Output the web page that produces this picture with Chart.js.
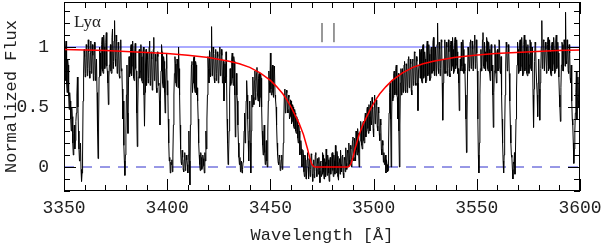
<!DOCTYPE html>
<html>
<head>
<meta charset="utf-8">
<script src="https://cdn.jsdelivr.net/npm/chart.js"></script>
<style>
  body { margin: 0; background: #fff; }
  canvas { display: block; }
</style>
</head>
<body>
<canvas id="myChart" width="602" height="252"></canvas>
<script>
'use strict';

// **************************** DATA ****************************

// spectrum sampled every 0.25 A starting at 3350 A
let specStart = 3350;
let specStep = 0.25;
let specFlux = [
  0.95, 0.80, 0.72, 0.98, 1.05, 0.70, 0.62, 0.90, 0.85, 0.60, 0.48, 0.62, 0.55, 0.40, 0.30, 0.50, 0.42, 0.20, 0.10, 0.28,
  0.35, 0.15, 0.22, 0.38, 0.45, 0.60, 0.75, 0.50, 0.30, 0.15, 0.05, 0.12, 0.20, -0.02, -0.12, -0.05, 0.10, 0.55, 0.80, 0.98,
  0.92, 0.75, 0.78, 1.02, 1.00, 0.76, 0.82, 1.06, 0.96, 0.80, 0.74, 0.95, 1.05, 0.78, 0.85, 1.02, 0.93, 0.72, 0.76, 1.04,
  0.98, 0.72, 0.80, 0.90, 0.62, 0.30, 0.07, 0.35, 0.75, 1.00, 0.95, 0.76, 0.82, 1.02, 1.08, 0.80, 0.78, 1.10, 1.00, 0.82,
  0.86, 1.04, 1.12, 0.84, 0.80, 0.70, 0.52, 0.75, 0.85, 0.95, 1.02, 0.80, 0.78, 1.08, 1.15, 0.82, 0.88, 1.05, 1.22, 0.90,
  0.84, 1.10, 1.05, 0.78, 0.80, 1.04, 0.98, 0.76, 0.74, 0.98, 1.06, 0.80, 0.82, 0.65, 0.40, 0.55, 0.18, 0.05, -0.07, 0.10,
  0.30, 0.60, 0.85, 0.45, 0.28, 0.70, 0.92, 0.75, 0.78, 0.98, 1.02, 0.76, 0.84, 1.05, 0.96, 0.74, 0.72, 0.95, 1.03, 0.82,
  0.80, 0.45, 0.17, 0.50, 0.75, 0.96, 0.98, 0.74, 0.80, 1.02, 0.92, 0.72, 0.70, 0.96, 1.00, 0.60, 0.34, 0.62, 0.85, 0.98,
  0.68, 0.90, 0.95, 0.70, 0.74, 1.00, 1.05, 0.68, 0.72, 0.96, 0.90, 0.64, 0.66, 0.98, 1.08, 0.72, 0.75, 0.94, 0.88, 0.66,
  0.62, 0.96, 0.92, 0.68, 0.70, 0.55, 0.35, 0.60, 0.80, 1.02, 0.96, 0.70, 0.66, 0.92, 0.88, 0.62, 0.45, 0.70, 0.82, 0.95,
  0.60, 0.72, 0.40, 0.20, 0.05, 0.08, -0.05, 0.04, 0.02, 0.06, -0.04, 0.10, 0.35, 0.60, 0.78, 0.92, 0.86, 0.70, 0.67, 0.90,
  0.85, 0.66, 1.00, 0.82, 0.60, 0.35, 0.15, 0.04, 0.02, 0.14, 0.08, -0.02, -0.04, 0.06, 0.12, -0.03, 0.00, 0.10, 0.06, 0.02,
  -0.05, 0.10, 0.30, 0.05, -0.15, 0.35, 0.65, 0.85, 0.88, 0.62, 0.70, 0.90, 0.92, 0.66, 0.62, 0.88, 0.85, 0.60, 0.66, 0.55,
  0.40, 0.20, 0.10, 0.02, -0.03, 0.12, 0.08, -0.02, 0.00, 0.10, 0.07, 0.01, -0.05, 0.12, 0.05, 0.30, 0.15, 0.40, 0.60, 0.92,
  0.82, 0.70, 0.97, 0.78, 0.75, 0.96, 1.17, 0.76, 0.80, 1.00, 0.95, 0.74, 0.70, 0.94, 0.98, 0.72, 0.78, 0.96, 0.92, 0.70,
  0.72, 0.94, 1.00, 0.76, 0.80, 0.98, 0.93, 0.70, 0.74, 0.88, 0.55, 0.75, 0.86, 0.70, 0.96, 0.75, 0.40, 0.20, 0.02, 0.10,
  0.30, 0.60, 0.82, 0.68, 0.70, 0.90, 0.95, 0.74, 0.68, 0.92, 0.88, 0.60, 0.25, 0.50, 0.78, 0.60, 0.55, 0.35, 0.20, 0.08,
  0.02, 0.08, -0.04, 0.02, 0.05, -0.05, -0.02, 0.04, 0.10, 0.30, 0.45, 0.20, 0.30, 0.55, 0.72, 0.60, 0.40, 0.22, 0.05, 0.30,
  0.55, 0.20, -0.05, 0.30, 0.60, 0.50, 0.75, 0.58, 0.52, 0.72, 0.80, 0.56, 0.62, 0.78, 0.83, 0.60, 0.55, 0.74, 0.78, 0.50,
  0.58, 0.78, 0.74, 0.50, 0.30, 0.18, 0.10, 0.25, 0.35, 0.12, 0.02, 0.10, 0.22, 0.05, 0.00, 0.30, 0.55, 0.80, 0.70, 0.62,
  0.95, 0.65, 0.60, 0.82, 0.85, 0.62, 0.58, 0.84, 0.80, 0.60, 0.56, 0.50, 0.35, 0.20, 0.10, 0.04, 0.02, 0.10, 0.08, -0.03,
  -0.02, 0.06, 0.10, -0.02, 0.00, 0.20, 0.40, 0.60, 0.65, 0.45, 0.50, 0.64, 0.62, 0.48, 0.45, 0.60, 0.58, 0.40, 0.42, 0.56,
  0.55, 0.36, 0.38, 0.52, 0.50, 0.34, 0.32, 0.48, 0.45, 0.30, 0.28, 0.42, 0.40, 0.24, 0.20, 0.35, 0.30, 0.10, 0.12, 0.22,
  0.15, 0.00, 0.02, 0.14, 0.10, -0.04, -0.08, 0.10, 0.08, -0.10, -0.05, 0.06, 0.12, 0.00, -0.10, 0.07, 0.05, -0.08, -0.02, 0.11,
  0.10, -0.06, -0.12, 0.02, 0.06, -0.09, -0.04, 0.10, 0.12, -0.02, -0.08, 0.07, 0.03, -0.06, 0.08, -0.03, -0.13, 0.04, 0.05, -0.08,
  -0.06, 0.12, 0.10, -0.04, -0.10, 0.07, 0.04, -0.08, 0.15, 0.02, -0.07, 0.10, 0.06, -0.05, -0.12, 0.05, 0.08, -0.06, 0.00, 0.11,
  0.12, -0.03, -0.08, 0.10, 0.05, -0.06, 0.18, 0.00, -0.05, 0.13, 0.09, -0.08, -0.11, 0.04, 0.07, -0.06, 0.14, 0.02, -0.04, 0.09,
  0.10, -0.05, -0.09, 0.08, 0.06, -0.04, 0.16, 0.03, -0.02, 0.14, 0.12, 0.00, 0.20, 0.06, 0.02, 0.18, 0.15, 0.00, 0.08, 0.22,
  0.25, 0.08, 0.05, 0.24, 0.18, 0.05, 0.30, 0.14, 0.10, 0.32, 0.28, 0.12, 0.00, 0.20, 0.22, 0.38, 0.33, 0.18, 0.15, 0.36,
  0.38, 0.22, 0.20, 0.40, 0.45, 0.25, 0.30, 0.48, 0.50, 0.32, 0.28, 0.52, 0.42, 0.30, 0.55, 0.38, 0.35, 0.58, 0.48, 0.32,
  0.25, 0.50, 0.60, 0.36, 0.40, 0.56, 0.52, 0.34, 0.30, 0.50, 0.45, 0.28, 0.22, 0.40, 0.35, 0.15, 0.10, 0.22, 0.18, 0.04,
  0.12, 0.02, 0.05, 0.10, -0.05, 0.06, 0.02, -0.04, -0.03, 0.20, 0.45, 0.62, 0.70, 0.40, 0.00, 0.40, 0.72, 0.55, 0.58, 0.78,
  0.80, 0.60, 0.62, 0.82, 0.85, 0.60, 0.58, 0.40, 0.78, 0.30, 0.00, 0.35, 0.70, 0.82, 0.60, 0.78, 0.82, 0.62, 0.65, 0.85,
  0.88, 0.64, 0.62, 0.86, 0.84, 0.62, 0.66, 0.90, 0.92, 0.66, 0.70, 0.90, 0.86, 0.64, 0.60, 0.88, 0.90, 0.68, 0.72, 0.96,
  0.95, 0.70, 0.68, 0.92, 0.88, 0.70, 0.47, 0.80, 0.85, 0.98, 0.74, 0.95, 0.98, 0.72, 0.70, 1.00, 1.02, 0.74, 0.76, 0.96,
  0.90, 0.70, 0.72, 1.00, 1.05, 0.76, 0.78, 1.02, 0.94, 0.72, 0.74, 0.98, 1.00, 0.78, 0.80, 1.04, 1.08, 0.80, 0.76, 1.00,
  0.95, 0.76, 0.80, 1.02, 1.20, 0.82, 0.78, 1.04, 0.98, 0.76, 0.82, 1.06, 1.04, 0.70, 0.39, 0.70, 0.90, 0.78, 1.06, 0.80,
  0.78, 1.04, 1.00, 0.76, 0.82, 1.06, 0.96, 0.78, 0.75, 1.02, 1.05, 0.80, 0.84, 1.08, 0.98, 0.78, 0.80, 1.04, 1.08, 0.82,
  0.85, 1.06, 0.96, 0.78, 0.82, 0.70, 0.47, 0.75, 0.90, 0.80, 1.04, 0.84, 0.80, 1.06, 0.98, 0.78, 0.86, 0.80, 0.60, 0.40,
  0.12, 0.40, 0.75, 1.00, 0.95, 0.80, 0.82, 1.04, 1.06, 0.82, 0.84, 1.05, 0.98, 0.80, 0.80, 1.02, 1.10, 0.82, 0.86, 1.06,
  0.95, 0.80, 0.40, 0.10, -0.05, 0.20, 0.60, 0.82, 0.98, 0.80, 0.84, 1.06, 1.12, 0.84, 0.82, 1.04, 0.96, 0.80, 0.88, 1.08,
  1.05, 0.82, 0.80, 1.04, 0.98, 0.78, 0.72, 0.96, 1.02, 0.80, 0.85, 0.60, 0.33, 0.62, 0.80, 1.02, 0.95, 0.78, 0.70, 0.96,
  0.98, 0.80, 0.82, 1.06, 1.05, 0.80, 0.78, 0.92, 0.60, 0.40, 0.20, 0.05, -0.05, 0.10, 0.30, 0.60, 0.85, 1.04, 1.00, 0.80,
  0.82, 1.02, 0.96, 0.78, 0.55, 0.35, 0.20, 0.10, 0.08, -0.02, -0.10, 0.04, 0.03, 0.12, -0.06, 0.15, 0.40, 0.65, 0.85, 1.04,
  0.98, 0.78, 0.80, 1.04, 1.06, 0.80, 0.84, 1.08, 0.95, 0.76, 0.78, 1.02, 1.10, 0.80, 0.82, 1.06, 1.00, 0.78, 0.76, 1.02,
  0.94, 0.78, 0.85, 1.06, 1.04, 0.82, 0.80, 1.00, 0.96, 0.60, 0.33, 0.65, 0.88, 1.04, 1.02, 0.80, 0.80, 0.60, 0.42, 0.70,
  0.90, 0.65, 0.39, 0.70, 0.82, 1.00, 1.22, 0.82, 0.85, 1.06, 1.05, 0.80, 0.80, 1.04, 0.98, 0.78, 0.84, 1.02, 1.08, 0.80,
  0.82, 1.06, 0.96, 0.78, 0.76, 1.02, 1.04, 0.80, 0.86, 1.08, 0.98, 0.78, 0.80, 1.05, 1.10, 0.82, 0.84, 1.04, 0.95, 0.75,
  0.60, 0.50, 0.38, 0.66, 0.85, 1.04, 1.02, 0.80, 0.80, 1.06, 1.05, 0.84, 1.29, 0.88, 0.86, 1.06, 1.00, 0.80, 0.78, 1.02,
  0.95, 0.74, 0.70, 0.85, 0.55, 0.40, 0.35, 0.20, 0.03, 0.15, 0.30, 0.45, 0.62, 0.80, 0.40, 0.58, 0.75, 0.55, 0.50, 0.78,
  0.70
];

// damped Lya fit (red curve)
let fitWave = [3350, 3360, 3370, 3380, 3390, 3400, 3410, 3420, 3430, 3435, 3440, 3445,
  3450, 3453, 3456, 3458, 3460, 3462, 3464, 3466, 3467, 3468, 3469, 3470, 3471, 3472,
  3487, 3488, 3489, 3490, 3491, 3492, 3493, 3495, 3497, 3499, 3501, 3503, 3506, 3509,
  3514, 3519, 3524, 3529, 3539, 3549, 3559, 3569, 3579, 3589, 3600];
let fitFlux = [0.98, 0.975, 0.97, 0.963, 0.955, 0.945, 0.932, 0.912, 0.882, 0.86, 0.83, 0.785,
  0.722, 0.67, 0.61, 0.56, 0.50, 0.43, 0.36, 0.27, 0.21, 0.15, 0.08, 0.025, 0.003, 0,
  0, 0.003, 0.025, 0.08, 0.15, 0.21, 0.27, 0.36, 0.43, 0.50, 0.56, 0.61, 0.67, 0.722,
  0.785, 0.83, 0.86, 0.882, 0.912, 0.932, 0.945, 0.955, 0.963, 0.97, 0.975];

let continuumLevel = 1;
let zeroLevel = 0;

// velocity components marked above the continuum
let componentWave = [3475.0, 3480.8];
let componentLow = 1.04;
let componentHigh = 1.2;

let xTickLabels = [3350, 3400, 3450, 3500, 3550, 3600];
let yTickLabels = [0, 0.5, 1];

let xMin = 3350;
let xMax = 3600;
let yMin = -0.2;
let yMax = 1.375;

// **************************** BUILD DATASETS ****************************

let specPoints = [];
for (let i = 0; i < specFlux.length; i++) {
  specPoints.push({ x: specStart + i * specStep, y: specFlux[i] });
}

let fitPoints = [];
for (let i = 0; i < fitWave.length; i++) {
  fitPoints.push({ x: fitWave[i], y: fitFlux[i] });
}

let markerSets = componentWave.map(function (w) {
  return {
    data: [{ x: w, y: componentLow }, { x: w, y: componentHigh }],
    borderColor: '#333',
    borderWidth: 1,
    pointRadius: 0,
    order: 2
  };
});

// **************************** FRAME / TICKS PLUGIN ****************************

let framePlugin = {
  id: 'frame',
  afterDatasetsDraw(chart) {
    let c = chart.ctx;
    let a = chart.chartArea;
    let xs = chart.scales.x;
    let ys = chart.scales.y;

    c.save();
    c.strokeStyle = '#000';
    c.lineWidth = 1;

    function seg(x1, y1, x2, y2) {
      c.beginPath();
      c.moveTo(x1, y1);
      c.lineTo(x2, y2);
      c.stroke();
    }

    // inward ticks, minor every 10 A / 0.1
    for (let w = xMin; w <= xMax; w += 10) {
      let px = Math.round(xs.getPixelForValue(w)) + 0.5;
      let len = (w % 50 === 0) ? 12 : 6;
      seg(px, a.bottom, px, a.bottom - len);
      seg(px, a.top, px, a.top + len);
    }
    for (let k = -2; k <= 13; k++) {
      let py = Math.round(ys.getPixelForValue(k / 10)) + 0.5;
      let len = (k % 5 === 0) ? 12 : 6;
      seg(a.left, py, a.left + len, py);
      seg(a.right, py, a.right - len, py);
    }

    c.strokeRect(a.left + 0.5, a.top + 0.5, a.right - a.left - 1, a.bottom - a.top - 1);

    c.fillStyle = '#222';
    c.font = '17px "Liberation Serif"';
    c.textBaseline = 'alphabetic';
    c.fillText('Ly\u03b1', a.left + 10, a.top + 25);
    c.restore();
  }
};

// **************************** CHART ****************************

let ctx = document.getElementById('myChart');
let labelFont = { family: '"Liberation Mono"', size: 18 };
let titleFont = { family: '"Liberation Mono"', size: 17 };

new Chart(ctx, {
  type: 'line',
  data: {
    datasets: [
      {
        data: fitPoints,
        borderColor: '#ff0000',
        borderWidth: 1.5,
        pointRadius: 0,
        order: 1
      },
      ...markerSets,
      {
        data: specPoints,
        borderColor: '#000',
        borderWidth: 1,
        pointRadius: 0,
        order: 3
      },
      {
        data: [{ x: xMin, y: zeroLevel }, { x: xMax, y: zeroLevel }],
        borderColor: '#3030cc',
        borderWidth: 1,
        borderDash: [10, 8],
        pointRadius: 0,
        order: 4
      },
      {
        data: [{ x: xMin, y: continuumLevel }, { x: xMax, y: continuumLevel }],
        borderColor: '#aaaaff',
        borderWidth: 2,
        pointRadius: 0,
        order: 5
      }
    ]
  },
  options: {
    responsive: false,
    animation: false,
    layout: { padding: { left: 0, right: 22, top: 2, bottom: 0 } },
    plugins: {
      legend: { display: false },
      tooltip: { enabled: false }
    },
    scales: {
      x: {
        type: 'linear',
        min: xMin,
        max: xMax,
        afterFit(s) {
          s.height = 61;
          s.paddingLeft = 0;
          s.paddingRight = 0;
        },
        afterBuildTicks(s) { s.ticks = xTickLabels.map(v => ({ value: v })); },
        grid: { display: false },
        border: { display: false },
        ticks: {
          font: labelFont,
          color: '#222',
          padding: -2,
          maxRotation: 0,
          autoSkip: false,
          callback: v => String(v)
        },
        title: {
          display: true,
          text: 'Wavelength [Å]',
          font: titleFont,
          color: '#222',
          padding: { top: 0, bottom: 6 }
        }
      },
      y: {
        type: 'linear',
        min: yMin,
        max: yMax,
        afterFit(s) {
          s.width = 64;
          s.paddingTop = 0;
          s.paddingBottom = 0;
        },
        afterBuildTicks(s) { s.ticks = yTickLabels.map(v => ({ value: v })); },
        grid: { display: false },
        border: { display: false },
        ticks: {
          font: labelFont,
          color: '#222',
          padding: 7,
          autoSkip: false,
          callback: v => String(v)
        },
        title: {
          display: true,
          text: 'Normalized Flux',
          font: titleFont,
          color: '#222',
          padding: { top: 1, bottom: 0 }
        }
      }
    }
  },
  plugins: [framePlugin]
});
</script>
</body>
</html>
